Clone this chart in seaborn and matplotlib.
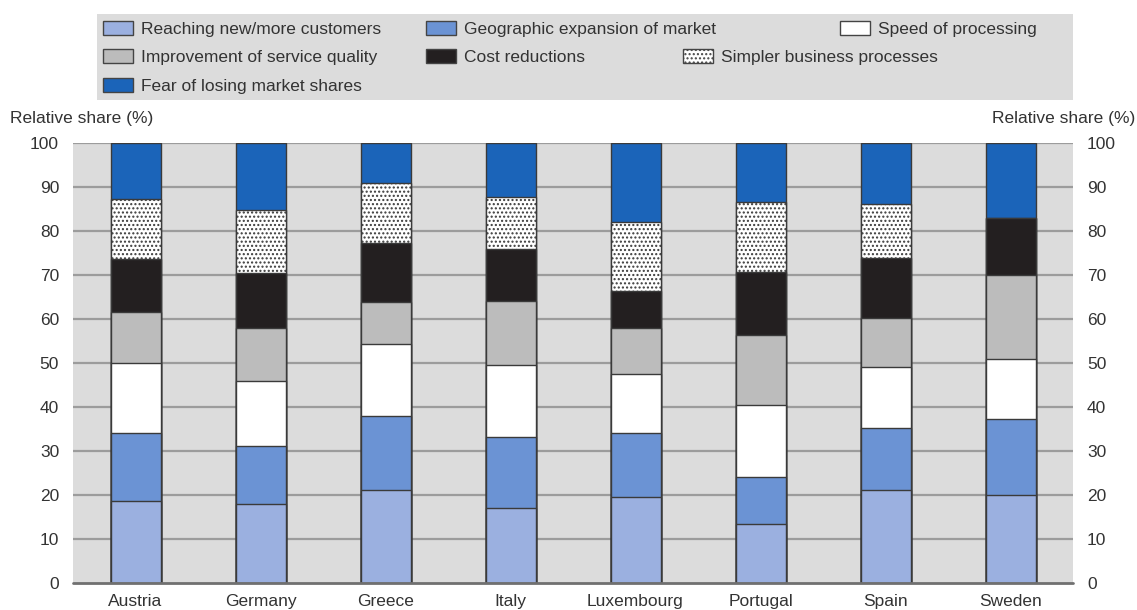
import matplotlib
matplotlib.use("Agg")
import matplotlib.pyplot as plt
from matplotlib.patches import Patch, Rectangle
import seaborn as sns
import pandas as pd
import numpy as np

countries = ["Austria", "Germany", "Greece", "Italy", "Luxembourg", "Portugal", "Spain", "Sweden"]
reaching = [18.7, 18.0, 21.2, 17.0, 19.5, 13.3, 21.2, 20.1]
geographic = [15.5, 13.1, 16.7, 16.2, 14.6, 10.9, 14.0, 17.2]
speed = [15.7, 14.7, 16.4, 16.4, 13.5, 16.2, 14.0, 13.5]
improvement = [11.8, 12.2, 9.5, 14.6, 10.4, 16.0, 11.0, 19.3]
cost = [12.0, 12.5, 13.5, 11.7, 8.4, 14.2, 13.7, 12.9]
simpler = [13.5, 14.2, 13.5, 11.8, 15.6, 16.1, 12.3, 0.0]
fear = [12.8, 15.3, 9.2, 12.3, 18.0, 13.3, 13.8, 17.0]
yticks = [0, 10, 20, 30, 40, 50, 60, 70, 80, 90, 100]

series_names = ["Reaching new/more customers", "Geographic expansion of market",
                "Speed of processing", "Improvement of service quality",
                "Cost reductions", "Simpler business processes",
                "Fear of losing market shares"]
series_vals = [reaching, geographic, speed, improvement, cost, simpler, fear]
colors = ["#9bb0e0", "#6b93d4", "#ffffff", "#bcbcbc", "#231f20", "#ffffff", "#1b64b9"]
hatches = [None, None, None, None, None, "....", None]

sns.set_theme(style="white")
plt.rcParams["font.family"] = ["Liberation Sans", "DejaVu Sans"]
plt.rcParams["hatch.linewidth"] = 1.0
plt.rcParams["hatch.color"] = "#222222"

FS = 12.5
TXT = "#333333"
W, H = 1137, 610
fig = plt.figure(figsize=(W / 100, H / 100), dpi=100)
ax = fig.add_axes([73 / W, 1 - 583 / H, (1073 - 73) / W, (583 - 143) / H])
ax.set_facecolor("#dcdcdc")

cum = np.cumsum(np.array(series_vals), axis=0)
edge = "#3a3a3a"
# draw from top layer down so lower layers overlay
for i in range(len(series_vals) - 1, -1, -1):
    df = pd.DataFrame({"country": countries, "value": cum[i]})
    sns.barplot(data=df, x="country", y="value", order=countries, color=colors[i],
                saturation=1, width=0.4, edgecolor=edge, linewidth=1.0,
                hatch=hatches[i], ax=ax, zorder=3 + (len(series_vals) - i) * 0.01)

ax.set_xlim(-0.5, len(countries) - 0.5)
ax.set_ylim(0, 100)
ax.set_yticks(yticks)
for y in yticks[1:]:
    ax.axhline(y, color="#9c9c9c", lw=1.6, zorder=1)
ax.axhline(0, color="#707070", lw=2.0, zorder=5, clip_on=False)
for s in ax.spines.values():
    s.set_visible(False)
ax.set_xlabel("")
ax.set_ylabel("")
ax.tick_params(axis="both", length=0, labelsize=FS, colors=TXT)
ax.tick_params(axis="x", pad=8)
ax.tick_params(axis="y", pad=10, labelleft=True, labelright=True)

fig.text(10 / W, 1 - 118 / H, "Relative share (%)", ha="left", va="center",
         fontsize=FS, color=TXT)
fig.text(1135 / W, 1 - 118 / H, "Relative share (%)", ha="right", va="center",
         fontsize=FS, color=TXT)

# legend background
fig.patches.append(Rectangle((97 / W, 1 - 100 / H), (1073 - 97) / W, 86 / H,
                             transform=fig.transFigure, facecolor="#dcdcdc",
                             edgecolor="none", zorder=0))

leg_pos = [(94, 29), (417, 29), (831, 29), (94, 57), (417, 57), (674, 57), (94, 86)]
for i, name in enumerate(series_names):
    h = Patch(facecolor=colors[i], edgecolor="#444444", linewidth=1.0,
              hatch=hatches[i])
    x, y = leg_pos[i]
    fig.legend(handles=[h], labels=[name], loc="center left",
               bbox_to_anchor=(x / W, 1 - y / H), frameon=False, borderpad=0,
               handlelength=1.75, handleheight=0.9, handletextpad=0.45,
               fontsize=FS, labelcolor=TXT)

fig.savefig("out.png", dpi=100)
